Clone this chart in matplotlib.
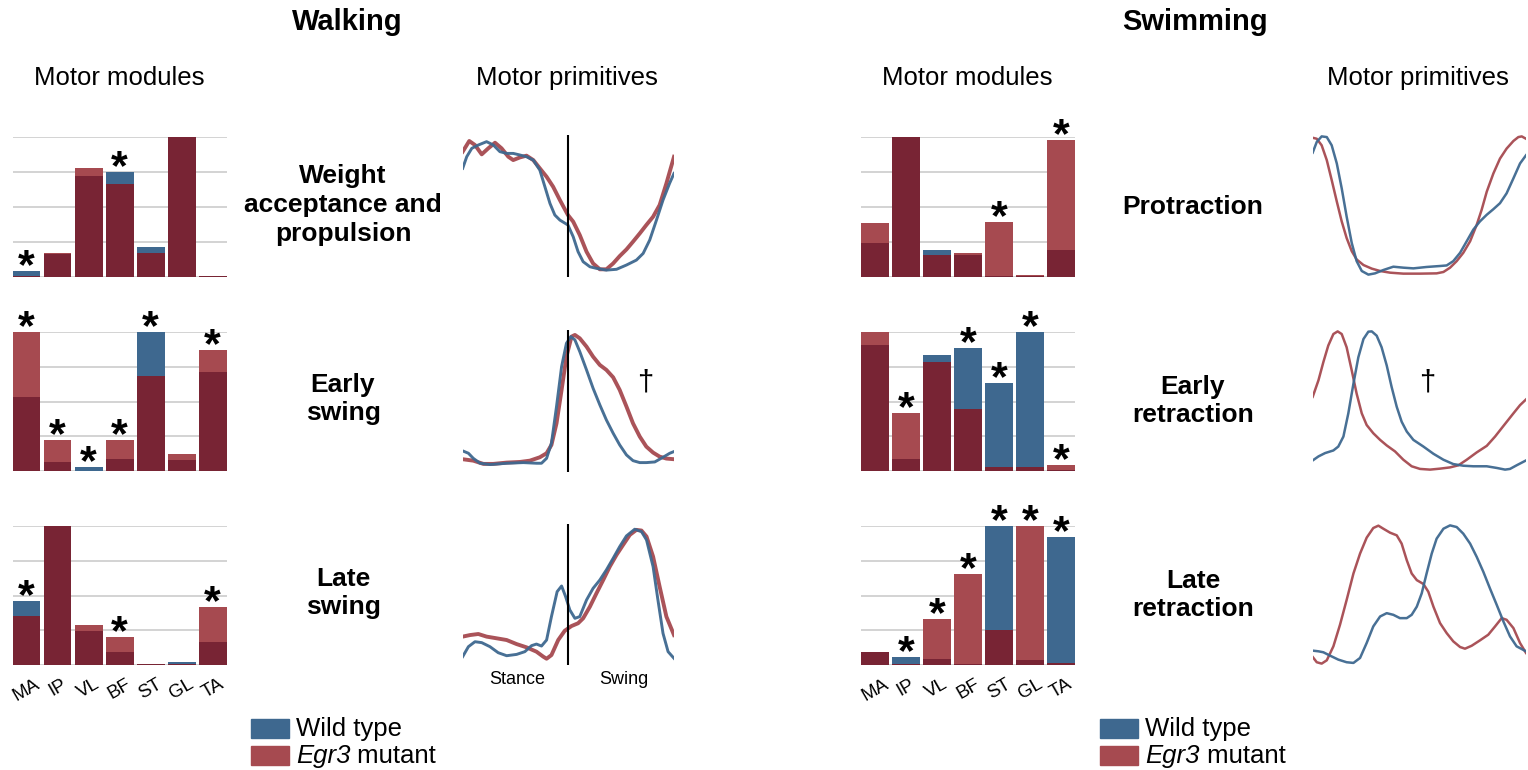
import numpy as np
import matplotlib
matplotlib.use("Agg")
import matplotlib.pyplot as plt
from matplotlib.patches import Rectangle

plt.rcParams['font.family'] = ['Liberation Sans', 'DejaVu Sans']

W, H = 1528, 770

BLUE = '#3e688f'
RED = '#a64a50'
MAROON = '#782434'
GRID = '#cccccc'

muscles = ['MA', 'IP', 'VL', 'BF', 'ST', 'GL', 'TA']

# motor modules (normalised weights), wild type vs Egr3 mutant
walk_wt_r1 = [0.04, 0.165, 0.72, 0.75, 0.21, 1.0, 0.005]
walk_mut_r1 = [0.005, 0.17, 0.775, 0.66, 0.17, 1.0, 0.005]
walk_wt_r2 = [0.53, 0.067, 0.031, 0.09, 1.0, 0.083, 0.715]
walk_mut_r2 = [1.0, 0.225, 0.005, 0.225, 0.685, 0.125, 0.87]
walk_wt_r3 = [0.46, 1.0, 0.245, 0.095, 0.01, 0.024, 0.168]
walk_mut_r3 = [0.355, 1.0, 0.29, 0.2, 0.01, 0.01, 0.42]
swim_wt_r1 = [0.243, 1.0, 0.193, 0.157, 0.005, 0.005, 0.19]
swim_mut_r1 = [0.386, 1.0, 0.157, 0.17, 0.393, 0.012, 0.975]
swim_wt_r2 = [0.91, 0.09, 0.835, 0.887, 0.636, 1.0, 0.01]
swim_mut_r2 = [1.0, 0.42, 0.787, 0.448, 0.031, 0.031, 0.045]
swim_wt_r3 = [0.098, 0.06, 0.045, 0.01, 1.0, 0.04, 0.92]
swim_mut_r3 = [0.098, 0.012, 0.332, 0.654, 0.253, 1.0, 0.02]

# indices of muscles flagged with *
walk_stars = [[0, 3], [0, 1, 2, 3, 4, 6], [0, 3, 6]]
swim_stars = [[4, 6], [1, 3, 4, 5, 6], [1, 2, 3, 4, 5, 6]]

# motor primitives: phase (%) and amplitude
w1_red_x = [0, 3.1, 5.8, 9.0, 12.1, 15.3, 18.4, 21.6, 23.9, 27.1, 30.2, 33.4, 36.5, 39.7, 42.8, 46.0, 49.8, 52.3, 55.4, 58.6, 61.7, 64.9, 68.0, 71.2, 74.3, 77.5, 80.6, 83.8, 86.9, 90.1, 93.2, 96.4, 100]
w1_red_y = [.90, .98, .95, .88, .925, .967, .925, .862, .837, .857, .87, .837, .775, .712, .637, .537, .425, .375, .275, .15, .062, .018, .018, .062, .117, .167, .225, .287, .35, .412, .5, .662, .862]
w1_blue_x = [0, 1.9, 4.3, 7.4, 11.3, 14.5, 17.6, 20.8, 23.9, 27.1, 30.2, 33.4, 36.5, 38.9, 41.3, 43.6, 46.0, 49.8, 52.3, 54.6, 57.0, 60.2, 63.3, 68.0, 72.8, 77.5, 82.2, 85.4, 88.5, 91.7, 94.8, 97.9, 100]
w1_blue_y = [.775, .862, .925, .95, .975, .95, .9, .887, .887, .875, .862, .837, .762, .637, .512, .425, .387, .35, .262, .15, .075, .037, .025, .012, .018, .05, .087, .137, .237, .387, .537, .662, .737]

w2_red_x = [0, 5.0, 9.8, 14.5, 20.8, 27.1, 31.8, 36.5, 39.7, 42.0, 44.4, 46.8, 49.1, 51.5, 53.1, 55.4, 58.6, 61.7, 64.9, 68.0, 71.2, 74.3, 77.5, 80.6, 83.8, 86.9, 90.1, 93.2, 96.4, 100]
w2_red_y = [.044, .033, .008, .008, .018, .023, .033, .059, .09, .154, .32, .577, .833, .987, 1.0, .974, .91, .833, .769, .731, .674, .577, .449, .32, .218, .141, .095, .064, .049, .044]
w2_blue_x = [0, 2.7, 5.0, 8.2, 12.9, 20.8, 28.7, 35.0, 37.3, 39.7, 42.0, 44.4, 46.8, 49.1, 51.2, 53.1, 55.4, 58.6, 61.7, 64.9, 68.0, 71.2, 74.3, 77.5, 80.6, 83.8, 86.9, 90.9, 94.8, 98.0, 100]
w2_blue_y = [.108, .09, .051, .013, .003, .013, .018, .013, .013, .051, .167, .449, .756, .936, .987, .962, .872, .731, .59, .462, .346, .244, .154, .077, .033, .018, .018, .023, .059, .09, .103]

w3_red_x = [0, 3.5, 7.4, 11.3, 16.1, 20.8, 25.5, 30.2, 34.9, 38.1, 39.7, 42.0, 45.2, 48.3, 51.5, 54.6, 57.0, 60.2, 63.3, 66.5, 69.6, 72.8, 75.9, 79.1, 82.2, 84.6, 87.0, 90.1, 93.2, 96.4, 100]
w3_red_y = [.179, .191, .199, .179, .166, .153, .122, .097, .064, .026, .01, .038, .153, .224, .26, .281, .319, .408, .51, .612, .714, .804, .88, .957, .995, .99, .944, .791, .561, .332, .191]
w3_blue_x = [0, 2.7, 5.8, 9.0, 12.9, 16.8, 20.8, 25.5, 29.4, 32.6, 34.9, 37.3, 39.7, 42.0, 44.7, 46.8, 48.7, 50.7, 53.1, 55.4, 58.6, 61.7, 64.9, 68.0, 71.2, 74.3, 77.5, 81.4, 84.6, 87.0, 90.1, 92.4, 94.8, 97.2, 100]
w3_blue_y = [.026, .102, .14, .133, .102, .056, .033, .043, .064, .11, .122, .107, .153, .332, .523, .566, .485, .383, .319, .332, .459, .548, .612, .689, .778, .867, .949, 1.0, .982, .918, .714, .459, .204, .064, .013]

s1_red_x = [0, 1.9, 4.2, 6.6, 8.9, 11.3, 13.6, 15.9, 18.3, 20.6, 23.8, 27.7, 31.6, 36.3, 42.5, 50.3, 58.1, 61.3, 64.4, 67.5, 70.6, 73.8, 76.9, 79.2, 81.6, 84.7, 87.8, 90.9, 94.1, 96.4, 98.0, 100]
s1_red_y = [.99, .983, .936, .829, .686, .531, .388, .269, .174, .114, .074, .048, .031, .019, .012, .012, .014, .024, .055, .102, .162, .245, .364, .471, .602, .733, .84, .912, .967, .995, 1.0, .983]
s1_blue_x = [0, 1.9, 4.2, 6.6, 8.9, 11.3, 13.6, 15.9, 18.3, 20.6, 23.0, 26.1, 29.2, 33.1, 37.8, 42.5, 47.2, 53.4, 59.7, 62.8, 65.9, 69.1, 72.2, 75.3, 78.4, 81.6, 84.7, 87.8, 90.9, 94.1, 97.2, 100]
s1_blue_y = [.883, .96, 1.0, .995, .936, .805, .626, .424, .233, .102, .031, .005, .014, .038, .062, .055, .05, .06, .067, .071, .102, .162, .245, .329, .388, .436, .476, .519, .59, .698, .805, .864]

s2_red_x = [0, 2.7, 5.0, 7.3, 9.7, 11.7, 13.6, 15.9, 18.3, 20.6, 23.0, 25.3, 28.4, 31.6, 34.7, 38.6, 42.5, 46.4, 50.3, 55.0, 59.7, 64.4, 68.3, 72.2, 76.9, 81.6, 85.5, 89.4, 94.1, 97.2, 100]
s2_red_y = [.529, .648, .779, .898, .981, 1.0, .981, .886, .719, .552, .41, .326, .267, .219, .179, .136, .076, .029, .01, .005, .012, .021, .036, .076, .129, .176, .243, .319, .41, .469, .51]
s2_blue_x = [0, 2.7, 5.8, 9.7, 12.0, 14.4, 16.7, 19.1, 21.4, 23.8, 26.1, 27.7, 30.0, 32.3, 34.7, 37.0, 39.4, 41.7, 44.1, 47.2, 51.9, 56.6, 61.3, 65.9, 70.6, 75.3, 81.6, 86.3, 90.2, 92.5, 95.6, 100]
s2_blue_y = [.071, .1, .124, .143, .171, .243, .41, .624, .814, .945, .998, 1.0, .969, .886, .755, .6, .457, .35, .279, .219, .171, .119, .076, .045, .033, .029, .029, .017, .005, .01, .036, .071]

s3_red_x = [0, 1.9, 4.2, 6.6, 9.7, 12.8, 15.9, 19.1, 22.2, 25.3, 28.4, 30.8, 33.1, 36.3, 39.4, 41.7, 44.1, 46.4, 48.8, 51.9, 54.2, 56.6, 59.7, 62.8, 65.9, 69.1, 71.4, 74.5, 78.4, 82.3, 85.5, 88.6, 90.9, 94.1, 97.2, 100]
s3_red_y = [.048, .01, 0, .024, .125, .281, .46, .652, .796, .911, .981, .998, .976, .947, .928, .868, .748, .652, .604, .576, .52, .412, .293, .221, .161, .12, .108, .129, .168, .209, .269, .329, .317, .257, .149, .077]
s3_blue_x = [0, 2.7, 5.0, 8.1, 12.0, 15.9, 19.1, 22.2, 25.3, 28.4, 31.6, 34.7, 37.8, 40.9, 44.1, 46.4, 48.8, 51.1, 53.4, 55.8, 58.1, 61.3, 64.4, 67.5, 70.6, 73.8, 76.9, 80.0, 83.1, 86.3, 89.4, 92.5, 95.6, 100]
s3_blue_y = [.094, .089, .082, .058, .029, .01, .005, .041, .149, .269, .341, .365, .353, .329, .329, .353, .412, .508, .652, .796, .904, .976, 1.0, .988, .94, .868, .772, .664, .544, .424, .305, .197, .125, .089]

walk_rows = ['Weight\nacceptance and\npropulsion', 'Early\nswing', 'Late\nswing']
swim_rows = ['Protraction', 'Early\nretraction', 'Late\nretraction']

fig = plt.figure(figsize=(W / 100, H / 100), dpi=100)


def px_axes(x0, y0, x1, y1):
    return fig.add_axes([x0 / W, 1 - y1 / H, (x1 - x0) / W, (y1 - y0) / H])


def ftext(x, y, s, **kw):
    return fig.text(x / W, 1 - y / H, s, **kw)


def module_panel(ax, wt, mut, stars, labels):
    wt = np.array(wt)
    mut = np.array(mut)
    x = np.arange(len(wt))
    top = np.maximum(wt, mut)
    low = np.minimum(wt, mut)
    cols = [BLUE if a > b else RED for a, b in zip(wt, mut)]
    ax.bar(x, top, width=0.9, color=cols, zorder=2)
    ax.bar(x, low, width=0.9, color=MAROON, zorder=3)
    for i in stars:
        ax.text(i, top[i] - 0.115, '*', ha='center', va='bottom', fontsize=31,
                fontweight='bold', clip_on=False, zorder=4)
    ax.set_xlim(-0.45, 6.45)
    ax.set_ylim(0, 1)
    ax.set_yticks([0, 0.25, 0.5, 0.75, 1.0])
    ax.yaxis.grid(True, color=GRID, linewidth=1.2, zorder=0)
    ax.set_axisbelow(True)
    ax.tick_params(left=False, bottom=False, labelleft=False)
    for s in ax.spines.values():
        s.set_visible(False)
    if labels:
        ax.set_xticks(x)
        ax.set_xticklabels(muscles, rotation=30, ha='center', fontsize=13.5)
        ax.tick_params(axis='x', pad=4)
    else:
        ax.set_xticks([])


def primitive_panel(ax, rx, ry, bx, by, lw, ylim, vline):
    ax.plot(rx, ry, color=RED, lw=lw[0], alpha=0.95, solid_joinstyle='round')
    ax.plot(bx, by, color=BLUE, lw=lw[1], alpha=0.95, solid_joinstyle='round')
    if vline:
        ax.axvline(50, color='black', lw=1.5)
    ax.set_xlim(0, 100)
    ax.set_ylim(*ylim)
    ax.axis('off')


row_px = [(137, 276.7), (332, 471.3), (525.7, 665.3)]
prim_px = [(135, 276.7), (330, 471.7), (524, 665)]
walk_mod = [(walk_wt_r1, walk_mut_r1), (walk_wt_r2, walk_mut_r2), (walk_wt_r3, walk_mut_r3)]
swim_mod = [(swim_wt_r1, swim_mut_r1), (swim_wt_r2, swim_mut_r2), (swim_wt_r3, swim_mut_r3)]
walk_prim = [(w1_red_x, w1_red_y, w1_blue_x, w1_blue_y),
             (w2_red_x, w2_red_y, w2_blue_x, w2_blue_y),
             (w3_red_x, w3_red_y, w3_blue_x, w3_blue_y)]
swim_prim = [(s1_red_x, s1_red_y, s1_blue_x, s1_blue_y),
             (s2_red_x, s2_red_y, s2_blue_x, s2_blue_y),
             (s3_red_x, s3_red_y, s3_blue_x, s3_blue_y)]
walk_ylims = [(-0.0375, 1.025), (-0.052, 1.038), (-0.038, 1.04)]

for r in range(3):
    y0, y1 = row_px[r]
    ax = px_axes(12.5, y0, 226.7, y1)
    module_panel(ax, *walk_mod[r], walk_stars[r], r == 2)
    ax = px_axes(861, y0, 1075.2, y1)
    module_panel(ax, *swim_mod[r], swim_stars[r], r == 2)

    p0, p1 = prim_px[r]
    ax = px_axes(462.7, p0, 674, p1)
    primitive_panel(ax, *walk_prim[r], (2.8, 2.1), walk_ylims[r], True)
    ax = px_axes(1312.7, p0, 1526, p1)
    primitive_panel(ax, *swim_prim[r], (1.8, 1.8), (-0.01, 1.01), False)

# titles
ftext(347, 22, 'Walking', ha='center', va='center', fontsize=21, fontweight='bold')
ftext(1195, 22, 'Swimming', ha='center', va='center', fontsize=21, fontweight='bold')
for x in (119, 967):
    ftext(x, 78, 'Motor modules', ha='center', va='center', fontsize=18.5)
for x in (567, 1418):
    ftext(x, 78, 'Motor primitives', ha='center', va='center', fontsize=18.5)

# row labels
walk_label_y = [205, 399, 593]
swim_label_y = [207, 401, 595]
for r in range(3):
    ftext(343, walk_label_y[r], walk_rows[r], ha='center', va='center', fontsize=19,
          fontweight='bold', linespacing=1.25)
    ftext(1193, swim_label_y[r], swim_rows[r], ha='center', va='center', fontsize=19,
          fontweight='bold', linespacing=1.25)

# daggers
ftext(645, 382, '\u2020', ha='center', va='center', fontsize=21)
ftext(1427, 382, '\u2020', ha='center', va='center', fontsize=21)

# stance / swing
ftext(517, 679, 'Stance', ha='center', va='center', fontsize=13)
ftext(624, 679, 'Swing', ha='center', va='center', fontsize=13)

# legends
renderer = fig.canvas.get_renderer()
for lx in (251, 1100):
    fig.patches.append(Rectangle((lx / W, 1 - 738 / H), 38 / W, 19 / H, color=BLUE,
                                 transform=fig.transFigure, figure=fig))
    fig.patches.append(Rectangle((lx / W, 1 - 765 / H), 38 / W, 19 / H, color=RED,
                                 transform=fig.transFigure, figure=fig))
    ftext(lx + 45, 729, 'Wild type', ha='left', va='center', fontsize=18.5)
    t = ftext(lx + 45, 756, 'Egr3', ha='left', va='center', fontsize=18.5, style='italic')
    bb = t.get_window_extent(renderer)
    ftext(bb.x1, 756, ' mutant', ha='left', va='center', fontsize=18.5)

fig.savefig('out.png', dpi=100)
